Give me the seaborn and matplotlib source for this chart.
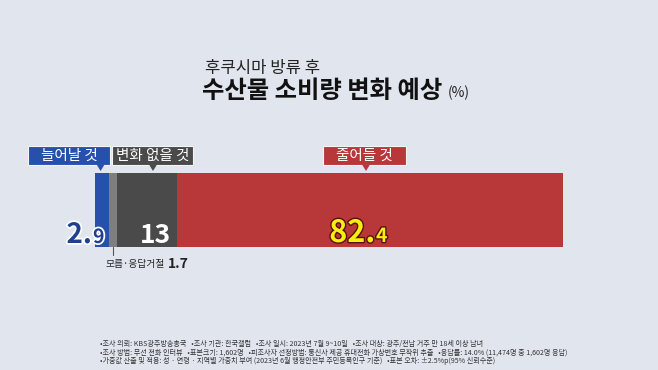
import numpy as np
import pandas as pd
import matplotlib
matplotlib.use("Agg")
import matplotlib.pyplot as plt
import seaborn as sns
from matplotlib.patches import Rectangle, Polygon
import matplotlib.patheffects as pe

# ---- data ----
categories = ["늘어날 것", "모름·응답거절", "변화 없을 것", "줄어들 것"]
values = [2.9, 1.7, 13, 82.4]
seg_colors = ["#2750ad", "#7e7e7e", "#4a4a4a", "#b8383a"]
title_sub = "후쿠시마 방류 후"
title_main = "수산물 소비량 변화 예상"
unit = "(%)"
notes = [
    "•조사 의뢰: KBS광주방송총국   •조사 기관: 한국갤럽   •조사 일시: 2023년 7월 9~10일   •조사 대상: 광주/전남 거주 만 18세 이상 남녀",
    "•조사 방법: 무선 전화 인터뷰   •표본크기: 1,602명   •피조사자 선정방법: 통신사 제공 휴대전화 가상번호 무작위 추출   •응답률: 14.0% (11,474명 중 1,602명 응답)",
    "•가중값 산출 및 적용: 성 · 연령 · 지역별 가중치 부여 (2023년 6월 행정안전부 주민등록인구 기준)   •표본 오차: ±2.5%p(95% 신뢰수준)",
]

BG = "#e1e5ee"
sns.set_theme(style="white")
plt.rcParams["font.family"] = ["Noto Sans CJK KR", "DejaVu Sans"]
NUM = ["Noto Sans CJK KR", "DejaVu Sans"]

fig = plt.figure(figsize=(6.58, 3.70), dpi=100, facecolor=BG)
W, H = 658, 370

# bar axes: 0..100 % maps to pixels 95..563, y 173..247
ax = fig.add_axes([95 / W, (H - 247) / H, 468 / W, 74 / H])
ax.set_facecolor(BG)
cum = np.cumsum(values)
df = pd.DataFrame({"cat": categories, "cum": cum, "val": values})
for i in range(len(df) - 1, -1, -1):
    sns.barplot(x=[df.loc[i, "cum"]], y=[0], orient="h", color=seg_colors[i],
                saturation=1, width=1, ax=ax, linewidth=0)
ax.set_xlim(0, 100)
ax.set_ylim(0.5, -0.5)
ax.axis("off")

# overlay axes in pixel coordinates for annotations
ov = fig.add_axes([0, 0, 1, 1], zorder=5)
ov.set_xlim(0, W)
ov.set_ylim(H, 0)
ov.axis("off")
ov.patch.set_alpha(0)

def px(v):
    return 95 + v * 4.68

# titles
ov.text(205, 69, title_sub, fontsize=12, color="#222222", va="center", ha="left")
ov.text(202, 91, title_main, fontsize=17.5, fontweight="bold", color="#111111",
        va="center", ha="left")
ov.text(448, 93, unit, fontsize=10, color="#222222", va="center", ha="left")

# label boxes with pointers
def label_box(x0, x1, tip, color, text):
    ov.add_patch(Rectangle((x0, 146), x1 - x0, 19, facecolor=color,
                           edgecolor="#f4f4f4", linewidth=0.8, zorder=3))
    ov.add_patch(Polygon([[tip - 4, 164.5], [tip + 4, 164.5], [tip, 171]],
                         closed=True, facecolor=color, edgecolor="none", zorder=4))
    ov.text((x0 + x1) / 2, 155.5, text, fontsize=10.5, color="white",
            ha="center", va="center", zorder=5)

label_box(28, 110, px(cum[0]) - 8, seg_colors[0], categories[0])
label_box(112, 193, 153, seg_colors[2], categories[2])
label_box(323, 406, 366, seg_colors[3], categories[3])

# value labels
white_stroke = [pe.withStroke(linewidth=2.5, foreground="white")]
ov.text(92, 243, "2.", fontsize=20, fontweight="bold", color="#1f3f8f",
        ha="right", va="baseline", family=NUM, path_effects=white_stroke)
ov.text(93, 243, "9", fontsize=14, fontweight="bold", color="#1f3f8f",
        ha="left", va="baseline", family=NUM, path_effects=white_stroke)
ov.text(155, 243, "13", fontsize=19, fontweight="bold", color="white",
        ha="center", va="baseline", family=NUM)
dark_stroke = [pe.withStroke(linewidth=2, foreground="#5a1010")]
ov.text(375, 242, "82.", fontsize=22, fontweight="bold", color="#f5ee12",
        ha="right", va="baseline", family=NUM, path_effects=dark_stroke)
ov.text(376, 242, "4", fontsize=14, fontweight="bold", color="#f5ee12",
        ha="left", va="baseline", family=NUM, path_effects=dark_stroke)

# don't know leader line and label
lx = px(cum[0] + values[1] / 2)
ov.plot([lx, lx], [247, 255], color="#555555", lw=0.8)
ov.text(105, 264, categories[1], fontsize=7, color="#222222", ha="left", va="center")
ov.text(168, 264, "1.7", fontsize=10, fontweight="bold", color="#222222",
        ha="left", va="center", family=NUM)

# footnotes
for i, line in enumerate(notes):
    ov.text(100, 344 + i * 8.3, line, fontsize=5.1, color="#333333",
            ha="left", va="center")

fig.savefig("out.png", dpi=100, facecolor=BG)
